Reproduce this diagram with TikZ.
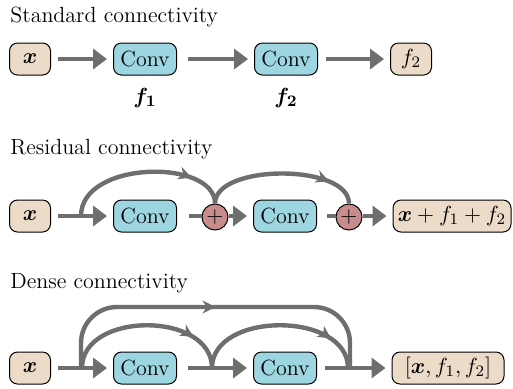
\documentclass[tikz,border=0pt]{standalone}
\usepackage{amsmath,bm}
\usetikzlibrary{arrows.meta,decorations.markings}
\definecolor{skin}{RGB}{235,219,200}
\definecolor{convblue}{RGB}{157,214,224}
\definecolor{plusred}{RGB}{200,140,140}
\definecolor{linegray}{RGB}{110,110,110}

\begin{document}
\begin{tikzpicture}[x=0.5pt,y=-0.5pt,
    font=\fontsize{11}{13}\selectfont,
    val/.style={draw,fill=skin,rounded corners=4pt,line width=0.5pt,minimum height=16pt,minimum width=20.5pt,inner sep=2pt},
    conv/.style={draw,fill=convblue,rounded corners=4pt,line width=0.5pt,minimum height=16pt,minimum width=31.5pt,inner sep=2pt},
    plus/.style={draw,circle,fill=plusred,line width=0.5pt,minimum size=13pt,inner sep=0pt},
    title/.style={anchor=base west,inner sep=0pt},
    flow/.style={linegray,line width=2.2pt,-{Triangle[length=7pt,width=10pt]},shorten <=3.5pt,shorten >=3pt},
    link/.style={linegray,line width=2.2pt,shorten <=3.5pt},
    skip/.style={linegray,line width=2.2pt,postaction={decorate},
      decoration={markings,mark=at position #1 with {\arrow{Stealth[length=6.5pt,width=6.5pt]}}}},
    skip/.default=0.78]
  \useasboundingbox (0,0) rectangle (513,388);

  % standard
  \node[title] (t1) at (10,22) {Standard connectivity};
  \node[val] (a0) at (30,59) {$\bm{x}$};
  \node[conv] (a1) at (145,59) {Conv};
  \node[conv] (a2) at (286,59) {Conv};
  \node[val] (a3) at (411,59) {$f_2$};
  \node (l1) at (145,98) {$\bm{f_1}$};
  \node (l2) at (286,98) {$\bm{f_2}$};
  \draw[flow] (a0) -- (a1);
  \draw[flow,shorten <=5.5pt] (a1) -- (a2);
  \draw[flow,shorten <=4pt] (a2) -- (a3);

  % residual
  \node[title] (t2) at (10,154) {Residual connectivity};
  \node[val] (b0) at (30,216) {$\bm{x}$};
  \node[conv] (b1) at (145,216) {Conv};
  \node[plus] (p1) at (215,217) {$+$};
  \node[conv] (b2) at (285,216) {Conv};
  \node[plus] (p2) at (349,217) {$+$};
  \node[val,minimum width=59pt] (b3) at (452,216) {$\bm{x}+f_1+f_2$};
  \draw[flow] (b0) -- (b1);
  \draw[link,shorten <=6pt] (b1) -- (b1 -| p1.west);
  \draw[flow,shorten <=0pt] (p1.east |- b2) -- (b2);
  \draw[link,shorten <=5pt] (b2) -- (b2 -| p2.west);
  \draw[flow,shorten <=0pt] (p2.east |- b3) -- (b3);
  \coordinate (r0) at (81,216);
  \draw[skip] (r0) .. controls +(0,-56) and +(0,-45) .. (p1.north);
  \draw[skip=0.8] (p1.north) .. controls +(0,-40) and +(0,-40) .. (p2.north);

  % dense
  \node[title] (t3) at (10,288) {Dense connectivity};
  \node[val] (c0) at (30,368) {$\bm{x}$};
  \node[conv] (c1) at (145,368) {Conv};
  \node[conv] (c2) at (285,368) {Conv};
  \node[val,minimum width=56pt] (c3) at (448,368) {$[\bm{x},f_1,f_2]$};
  \draw[flow] (c0) -- (c1);
  \draw[flow,shorten <=5.5pt] (c1) -- (c2);
  \draw[flow,shorten <=4pt] (c2) -- (c3);
  \coordinate (d0) at (81,368);
  \coordinate (d1) at (82,368);
  \coordinate (d2) at (212,368);
  \coordinate (d3) at (348,368);
  \coordinate (d4) at (350,368);
  \draw[skip=0.5,rounded corners=18pt] (d0) -- ++(0,-61) -| (d4);
  \draw[skip] (d1) .. controls +(0,-57) and +(0,-57) .. (d2);
  \draw[skip=0.8] (d2) .. controls +(0,-57) and +(0,-57) .. (d3);
\end{tikzpicture}
\end{document}
